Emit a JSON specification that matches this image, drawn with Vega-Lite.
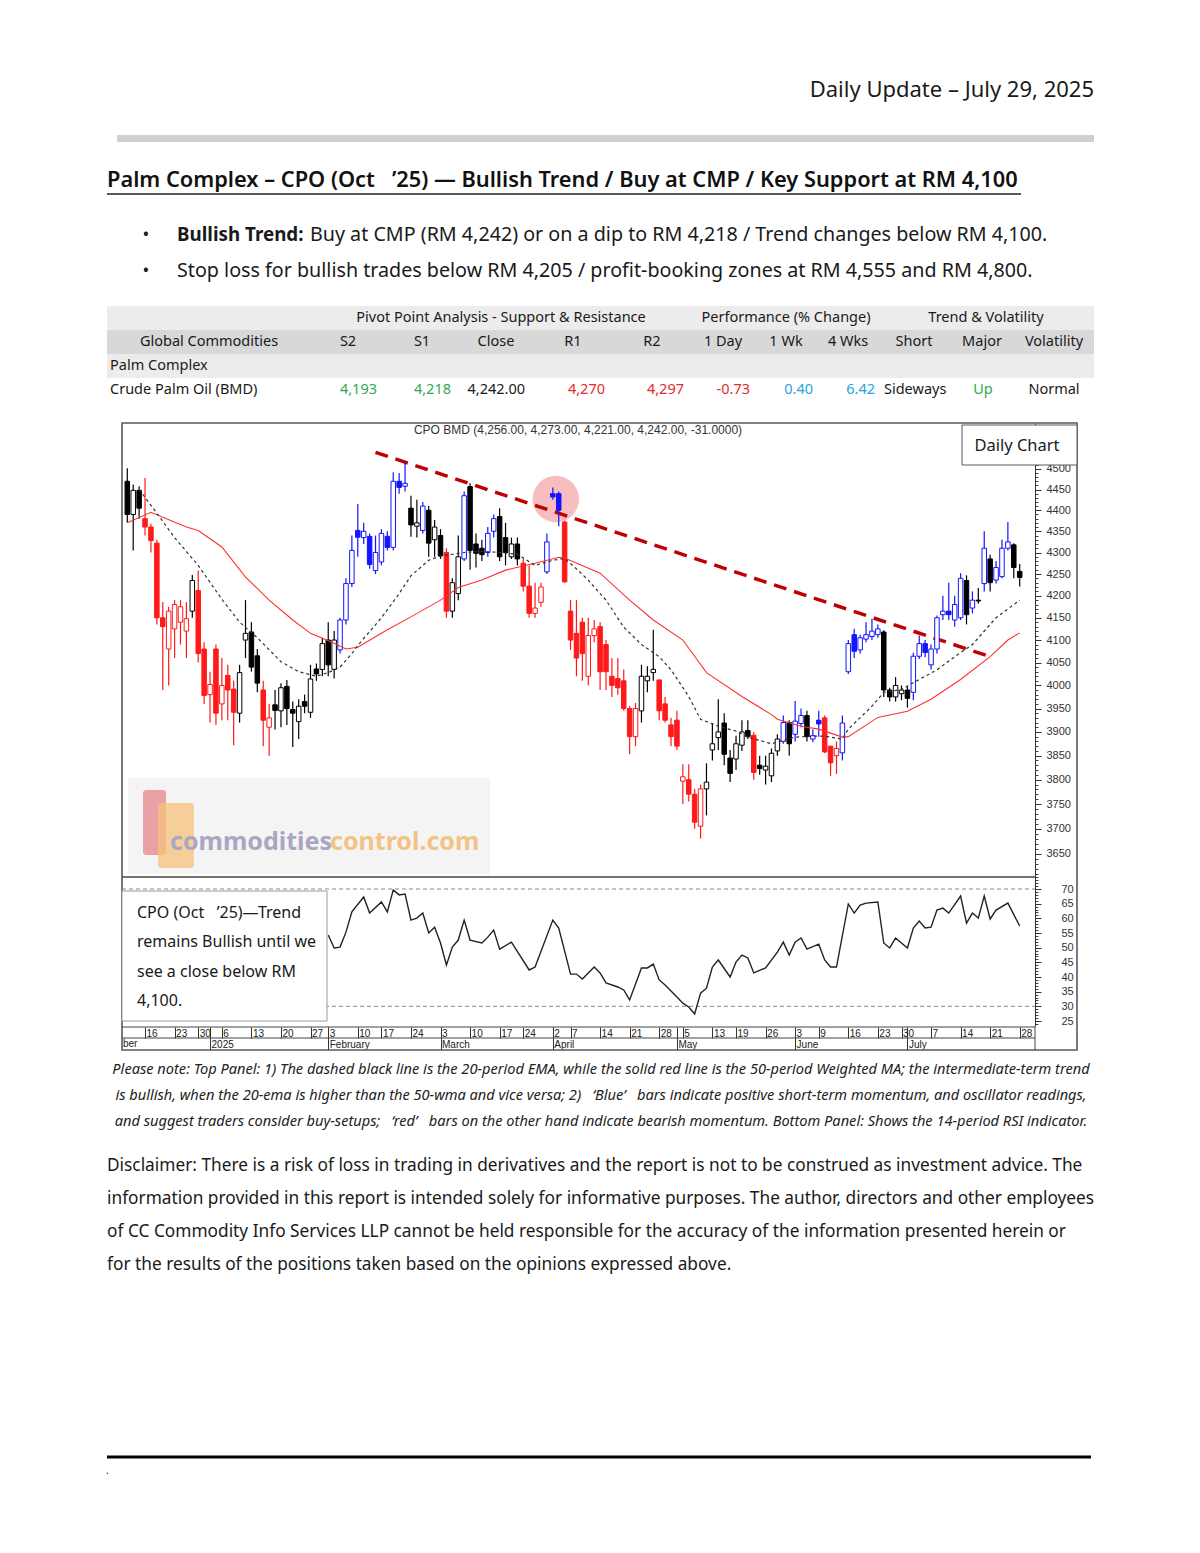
{
"$schema": "https://vega.github.io/schema/vega-lite/v6.json",
"width": 1200,
"height": 1553,
"autosize": {"type": "none"},
"padding": 0,
"background": "#ffffff",
"config": {"view": {"stroke": null}, "text": {"font": "Noto Sans", "baseline": "middle", "color": "#1a1a1a"}, "axis": {"labelFont": "Liberation Sans", "grid": false}},
"datasets": {
"candles": [
{"d":"2024-12-11","o":4470,"h":4502,"l":4370,"c":4390,"m":"neu"},
{"d":"2024-12-12","o":4390,"h":4462,"l":4305,"c":4448,"m":"neu"},
{"d":"2024-12-13","o":4448,"h":4458,"l":4380,"c":4405,"m":"neu"},
{"d":"2024-12-16","o":4380,"h":4478,"l":4340,"c":4360,"m":"neg"},
{"d":"2024-12-17","o":4360,"h":4368,"l":4300,"c":4328,"m":"neg"},
{"d":"2024-12-18","o":4322,"h":4330,"l":4135,"c":4150,"m":"neg"},
{"d":"2024-12-19","o":4150,"h":4186,"l":3990,"c":4130,"m":"neg"},
{"d":"2024-12-20","o":4080,"h":4175,"l":4000,"c":4165,"m":"neg"},
{"d":"2024-12-23","o":4125,"h":4190,"l":4060,"c":4180,"m":"neg"},
{"d":"2024-12-24","o":4140,"h":4190,"l":4090,"c":4175,"m":"neg"},
{"d":"2024-12-26","o":4120,"h":4185,"l":4060,"c":4148,"m":"neg"},
{"d":"2024-12-27","o":4165,"h":4248,"l":4150,"c":4235,"m":"neu"},
{"d":"2024-12-30","o":4212,"h":4258,"l":4050,"c":4070,"m":"neg"},
{"d":"2024-12-31","o":4080,"h":4095,"l":3960,"c":3978,"m":"neg"},
{"d":"2025-01-02","o":3980,"h":4030,"l":3920,"c":4002,"m":"neg"},
{"d":"2025-01-03","o":4080,"h":4090,"l":3915,"c":3940,"m":"neg"},
{"d":"2025-01-06","o":3960,"h":4060,"l":3925,"c":4000,"m":"neg"},
{"d":"2025-01-07","o":4022,"h":4045,"l":3925,"c":3990,"m":"neg"},
{"d":"2025-01-08","o":3992,"h":4010,"l":3872,"c":3942,"m":"neg"},
{"d":"2025-01-09","o":3940,"h":4045,"l":3920,"c":4028,"m":"neu"},
{"d":"2025-01-10","o":4100,"h":4190,"l":4060,"c":4115,"m":"neu"},
{"d":"2025-01-13","o":4118,"h":4140,"l":4030,"c":4040,"m":"neu"},
{"d":"2025-01-14","o":4065,"h":4080,"l":3985,"c":4005,"m":"neu"},
{"d":"2025-01-15","o":3990,"h":4010,"l":3870,"c":3925,"m":"neg"},
{"d":"2025-01-16","o":3910,"h":3960,"l":3850,"c":3930,"m":"neg"},
{"d":"2025-01-17","o":3958,"h":3990,"l":3905,"c":3946,"m":"neu"},
{"d":"2025-01-20","o":3945,"h":4005,"l":3910,"c":3995,"m":"neu"},
{"d":"2025-01-21","o":3998,"h":4012,"l":3915,"c":3950,"m":"neu"},
{"d":"2025-01-22","o":3948,"h":3965,"l":3868,"c":3940,"m":"neu"},
{"d":"2025-01-23","o":3922,"h":3970,"l":3885,"c":3955,"m":"neu"},
{"d":"2025-01-24","o":3965,"h":3980,"l":3940,"c":3955,"m":"neu"},
{"d":"2025-01-27","o":3942,"h":4045,"l":3930,"c":4014,"m":"neu"},
{"d":"2025-01-28","o":4036,"h":4048,"l":4010,"c":4025,"m":"neu"},
{"d":"2025-01-31","o":4035,"h":4105,"l":4020,"c":4092,"m":"neu"},
{"d":"2025-02-03","o":4100,"h":4140,"l":4020,"c":4045,"m":"neu"},
{"d":"2025-02-04","o":4035,"h":4120,"l":4015,"c":4100,"m":"neu"},
{"d":"2025-02-05","o":4078,"h":4150,"l":4070,"c":4145,"m":"pos"},
{"d":"2025-02-06","o":4145,"h":4240,"l":4135,"c":4228,"m":"pos"},
{"d":"2025-02-07","o":4228,"h":4340,"l":4220,"c":4305,"m":"pos"},
{"d":"2025-02-10","o":4352,"h":4415,"l":4290,"c":4336,"m":"pos"},
{"d":"2025-02-12","o":4335,"h":4370,"l":4320,"c":4350,"m":"pos"},
{"d":"2025-02-13","o":4338,"h":4345,"l":4262,"c":4272,"m":"pos"},
{"d":"2025-02-14","o":4258,"h":4340,"l":4250,"c":4300,"m":"pos"},
{"d":"2025-02-17","o":4278,"h":4355,"l":4270,"c":4345,"m":"pos"},
{"d":"2025-02-18","o":4338,"h":4350,"l":4305,"c":4312,"m":"pos"},
{"d":"2025-02-19","o":4312,"h":4492,"l":4305,"c":4470,"m":"pos"},
{"d":"2025-02-20","o":4470,"h":4490,"l":4440,"c":4455,"m":"pos"},
{"d":"2025-02-21","o":4458,"h":4518,"l":4445,"c":4465,"m":"pos"},
{"d":"2025-02-24","o":4405,"h":4435,"l":4337,"c":4365,"m":"neu"},
{"d":"2025-02-25","o":4362,"h":4425,"l":4335,"c":4370,"m":"neu"},
{"d":"2025-02-26","o":4352,"h":4420,"l":4345,"c":4410,"m":"pos"},
{"d":"2025-02-27","o":4400,"h":4410,"l":4290,"c":4322,"m":"neu"},
{"d":"2025-02-28","o":4330,"h":4377,"l":4290,"c":4360,"m":"neu"},
{"d":"2025-03-03","o":4340,"h":4355,"l":4285,"c":4292,"m":"neu"},
{"d":"2025-03-04","o":4300,"h":4310,"l":4150,"c":4165,"m":"neg"},
{"d":"2025-03-05","o":4165,"h":4240,"l":4150,"c":4230,"m":"neu"},
{"d":"2025-03-06","o":4205,"h":4340,"l":4190,"c":4290,"m":"neu"},
{"d":"2025-03-07","o":4285,"h":4445,"l":4280,"c":4435,"m":"pos"},
{"d":"2025-03-10","o":4457,"h":4465,"l":4260,"c":4305,"m":"neu"},
{"d":"2025-03-11","o":4320,"h":4345,"l":4265,"c":4298,"m":"neu"},
{"d":"2025-03-12","o":4310,"h":4330,"l":4280,"c":4295,"m":"neu"},
{"d":"2025-03-13","o":4300,"h":4360,"l":4290,"c":4345,"m":"pos"},
{"d":"2025-03-14","o":4350,"h":4390,"l":4335,"c":4380,"m":"pos"},
{"d":"2025-03-17","o":4385,"h":4405,"l":4280,"c":4290,"m":"neu"},
{"d":"2025-03-19","o":4335,"h":4370,"l":4270,"c":4300,"m":"neu"},
{"d":"2025-03-20","o":4290,"h":4335,"l":4285,"c":4320,"m":"neu"},
{"d":"2025-03-21","o":4320,"h":4335,"l":4270,"c":4285,"m":"neu"},
{"d":"2025-03-24","o":4275,"h":4285,"l":4210,"c":4222,"m":"neg"},
{"d":"2025-03-25","o":4222,"h":4270,"l":4150,"c":4160,"m":"neg"},
{"d":"2025-03-26","o":4160,"h":4230,"l":4150,"c":4172,"m":"neg"},
{"d":"2025-03-27","o":4185,"h":4230,"l":4175,"c":4220,"m":"neg"},
{"d":"2025-03-28","o":4255,"h":4345,"l":4250,"c":4325,"m":"pos"},
{"d":"2025-04-02","o":4440,"h":4455,"l":4425,"c":4432,"m":"pos"},
{"d":"2025-04-03","o":4440,"h":4445,"l":4362,"c":4400,"m":"pos"},
{"d":"2025-04-04","o":4372,"h":4375,"l":4230,"c":4232,"m":"neg"},
{"d":"2025-04-07","o":4165,"h":4190,"l":4078,"c":4100,"m":"neg"},
{"d":"2025-04-08","o":4115,"h":4190,"l":4020,"c":4060,"m":"neg"},
{"d":"2025-04-09","o":4140,"h":4150,"l":4010,"c":4070,"m":"neg"},
{"d":"2025-04-10","o":4020,"h":4150,"l":4000,"c":4110,"m":"neg"},
{"d":"2025-04-11","o":4110,"h":4145,"l":4095,"c":4125,"m":"neg"},
{"d":"2025-04-14","o":4130,"h":4140,"l":3990,"c":4030,"m":"neg"},
{"d":"2025-04-15","o":4090,"h":4100,"l":3990,"c":4030,"m":"neg"},
{"d":"2025-04-16","o":4020,"h":4060,"l":3975,"c":4000,"m":"neg"},
{"d":"2025-04-17","o":4015,"h":4060,"l":3980,"c":3995,"m":"neg"},
{"d":"2025-04-18","o":4010,"h":4035,"l":3945,"c":3950,"m":"neg"},
{"d":"2025-04-21","o":3950,"h":3955,"l":3853,"c":3890,"m":"neg"},
{"d":"2025-04-22","o":3890,"h":3962,"l":3870,"c":3950,"m":"neg"},
{"d":"2025-04-23","o":3945,"h":4045,"l":3920,"c":4020,"m":"neu"},
{"d":"2025-04-24","o":4010,"h":4042,"l":3985,"c":4020,"m":"neu"},
{"d":"2025-04-25","o":4028,"h":4123,"l":4010,"c":4035,"m":"neu"},
{"d":"2025-04-28","o":4012,"h":4012,"l":3925,"c":3945,"m":"neg"},
{"d":"2025-04-29","o":3960,"h":3975,"l":3920,"c":3925,"m":"neg"},
{"d":"2025-04-30","o":3915,"h":3930,"l":3870,"c":3890,"m":"neg"},
{"d":"2025-05-02","o":3925,"h":3945,"l":3862,"c":3870,"m":"neg"},
{"d":"2025-05-05","o":3797,"h":3832,"l":3750,"c":3806,"m":"neg"},
{"d":"2025-05-06","o":3800,"h":3832,"l":3755,"c":3770,"m":"neg"},
{"d":"2025-05-07","o":3770,"h":3781,"l":3700,"c":3713,"m":"neg"},
{"d":"2025-05-08","o":3705,"h":3790,"l":3680,"c":3781,"m":"neg"},
{"d":"2025-05-09","o":3781,"h":3834,"l":3727,"c":3795,"m":"neu"},
{"d":"2025-05-13","o":3862,"h":3919,"l":3840,"c":3875,"m":"neu"},
{"d":"2025-05-14","o":3888,"h":3970,"l":3862,"c":3900,"m":"neu"},
{"d":"2025-05-15","o":3919,"h":3940,"l":3830,"c":3853,"m":"neu"},
{"d":"2025-05-16","o":3845,"h":3862,"l":3795,"c":3813,"m":"neu"},
{"d":"2025-05-19","o":3843,"h":3892,"l":3820,"c":3875,"m":"neu"},
{"d":"2025-05-20","o":3872,"h":3925,"l":3860,"c":3900,"m":"neu"},
{"d":"2025-05-21","o":3903,"h":3925,"l":3885,"c":3890,"m":"neu"},
{"d":"2025-05-22","o":3893,"h":3900,"l":3800,"c":3815,"m":"neg"},
{"d":"2025-05-23","o":3830,"h":3850,"l":3810,"c":3823,"m":"neu"},
{"d":"2025-05-26","o":3820,"h":3850,"l":3790,"c":3828,"m":"neu"},
{"d":"2025-05-27","o":3808,"h":3865,"l":3795,"c":3855,"m":"neu"},
{"d":"2025-05-28","o":3860,"h":3895,"l":3850,"c":3885,"m":"neu"},
{"d":"2025-05-29","o":3880,"h":3935,"l":3875,"c":3920,"m":"pos"},
{"d":"2025-05-30","o":3920,"h":3925,"l":3850,"c":3875,"m":"neu"},
{"d":"2025-06-03","o":3895,"h":3966,"l":3880,"c":3923,"m":"pos"},
{"d":"2025-06-04","o":3918,"h":3950,"l":3910,"c":3935,"m":"pos"},
{"d":"2025-06-05","o":3935,"h":3945,"l":3880,"c":3890,"m":"neu"},
{"d":"2025-06-06","o":3885,"h":3905,"l":3878,"c":3892,"m":"pos"},
{"d":"2025-06-09","o":3925,"h":3945,"l":3890,"c":3917,"m":"pos"},
{"d":"2025-06-10","o":3930,"h":3935,"l":3855,"c":3858,"m":"neg"},
{"d":"2025-06-11","o":3870,"h":3870,"l":3808,"c":3835,"m":"neg"},
{"d":"2025-06-12","o":3850,"h":3880,"l":3812,"c":3865,"m":"neg"},
{"d":"2025-06-13","o":3856,"h":3935,"l":3840,"c":3919,"m":"pos"},
{"d":"2025-06-16","o":4030,"h":4100,"l":4025,"c":4092,"m":"pos"},
{"d":"2025-06-17","o":4112,"h":4125,"l":4060,"c":4075,"m":"pos"},
{"d":"2025-06-18","o":4078,"h":4112,"l":4070,"c":4105,"m":"pos"},
{"d":"2025-06-19","o":4102,"h":4140,"l":4095,"c":4112,"m":"pos"},
{"d":"2025-06-20","o":4108,"h":4148,"l":4100,"c":4120,"m":"pos"},
{"d":"2025-06-23","o":4112,"h":4135,"l":4105,"c":4125,"m":"pos"},
{"d":"2025-06-24","o":4118,"h":4122,"l":3975,"c":3990,"m":"neu"},
{"d":"2025-06-25","o":3990,"h":3995,"l":3965,"c":3975,"m":"neu"},
{"d":"2025-06-26","o":3975,"h":4018,"l":3965,"c":4000,"m":"neu"},
{"d":"2025-06-30","o":3982,"h":4000,"l":3968,"c":3990,"m":"neu"},
{"d":"2025-07-01","o":3990,"h":3998,"l":3952,"c":3972,"m":"neu"},
{"d":"2025-07-02","o":3985,"h":4072,"l":3968,"c":4064,"m":"pos"},
{"d":"2025-07-03","o":4064,"h":4110,"l":4058,"c":4092,"m":"pos"},
{"d":"2025-07-04","o":4092,"h":4100,"l":4062,"c":4072,"m":"pos"},
{"d":"2025-07-07","o":4045,"h":4090,"l":4035,"c":4080,"m":"pos"},
{"d":"2025-07-08","o":4080,"h":4155,"l":4070,"c":4150,"m":"pos"},
{"d":"2025-07-09","o":4157,"h":4200,"l":4145,"c":4165,"m":"pos"},
{"d":"2025-07-10","o":4165,"h":4230,"l":4145,"c":4157,"m":"pos"},
{"d":"2025-07-11","o":4145,"h":4200,"l":4130,"c":4180,"m":"pos"},
{"d":"2025-07-14","o":4150,"h":4252,"l":4145,"c":4240,"m":"pos"},
{"d":"2025-07-15","o":4235,"h":4247,"l":4135,"c":4157,"m":"neu"},
{"d":"2025-07-16","o":4172,"h":4210,"l":4160,"c":4190,"m":"pos"},
{"d":"2025-07-17","o":4190,"h":4218,"l":4182,"c":4188,"m":"neu"},
{"d":"2025-07-18","o":4228,"h":4350,"l":4210,"c":4310,"m":"pos"},
{"d":"2025-07-21","o":4285,"h":4295,"l":4210,"c":4230,"m":"neu"},
{"d":"2025-07-22","o":4236,"h":4280,"l":4228,"c":4265,"m":"pos"},
{"d":"2025-07-23","o":4244,"h":4330,"l":4240,"c":4310,"m":"pos"},
{"d":"2025-07-24","o":4310,"h":4372,"l":4305,"c":4325,"m":"pos"},
{"d":"2025-07-25","o":4318,"h":4322,"l":4240,"c":4265,"m":"neu"},
{"d":"2025-07-28","o":4256,"h":4273,"l":4221,"c":4242,"m":"neu"}
],
"ema": [
{"d":"2024-12-13","v":4450},{"d":"2024-12-18","v":4393},{"d":"2024-12-23","v":4335},{"d":"2024-12-30","v":4270},
{"d":"2025-01-06","v":4192},{"d":"2025-01-09","v":4140},{"d":"2025-01-14","v":4105},{"d":"2025-01-20","v":4052},
{"d":"2025-01-23","v":4030},{"d":"2025-01-28","v":4020},{"d":"2025-02-03","v":4028},{"d":"2025-02-05","v":4040},
{"d":"2025-02-07","v":4070},{"d":"2025-02-10","v":4088},{"d":"2025-02-17","v":4150},{"d":"2025-02-20","v":4205},
{"d":"2025-02-24","v":4246},{"d":"2025-02-27","v":4282},{"d":"2025-03-03","v":4292},{"d":"2025-03-07","v":4300},
{"d":"2025-03-12","v":4303},{"d":"2025-03-17","v":4300},{"d":"2025-03-21","v":4296},{"d":"2025-03-26","v":4270},
{"d":"2025-04-02","v":4282},{"d":"2025-04-04","v":4286},{"d":"2025-04-08","v":4262},{"d":"2025-04-10","v":4236},
{"d":"2025-04-15","v":4190},{"d":"2025-04-18","v":4129},{"d":"2025-04-23","v":4090},{"d":"2025-04-28","v":4063},
{"d":"2025-04-30","v":4034},{"d":"2025-05-06","v":3976},{"d":"2025-05-08","v":3927},{"d":"2025-05-14","v":3912},
{"d":"2025-05-19","v":3902},{"d":"2025-05-21","v":3889},{"d":"2025-05-27","v":3875},{"d":"2025-06-03","v":3889},
{"d":"2025-06-06","v":3891},{"d":"2025-06-10","v":3891},{"d":"2025-06-13","v":3885},{"d":"2025-06-16","v":3906},
{"d":"2025-06-20","v":3955},{"d":"2025-06-24","v":3985},{"d":"2025-06-30","v":3991},{"d":"2025-07-02","v":4006},
{"d":"2025-07-08","v":4034},{"d":"2025-07-11","v":4063},{"d":"2025-07-16","v":4090},{"d":"2025-07-22","v":4150},
{"d":"2025-07-28","v":4190}
],
"wma": [
{"d":"2024-12-11","v":4370},{"d":"2024-12-17","v":4395},{"d":"2024-12-26","v":4360},{"d":"2024-12-30","v":4352},
{"d":"2025-01-06","v":4313},{"d":"2025-01-10","v":4243},{"d":"2025-01-16","v":4190},{"d":"2025-01-22","v":4145},
{"d":"2025-01-27","v":4115},{"d":"2025-02-04","v":4093},{"d":"2025-02-06","v":4080},{"d":"2025-02-10","v":4084},
{"d":"2025-02-18","v":4123},{"d":"2025-02-24","v":4152},{"d":"2025-03-03","v":4190},{"d":"2025-03-06","v":4219},
{"d":"2025-03-12","v":4236},{"d":"2025-03-19","v":4259},{"d":"2025-03-26","v":4275},{"d":"2025-04-03","v":4289},
{"d":"2025-04-04","v":4287},{"d":"2025-04-14","v":4252},{"d":"2025-04-21","v":4190},{"d":"2025-04-25","v":4145},
{"d":"2025-05-05","v":4100},{"d":"2025-05-09","v":4028},{"d":"2025-05-20","v":3976},{"d":"2025-05-27","v":3937},
{"d":"2025-05-28","v":3927},{"d":"2025-06-04","v":3912},{"d":"2025-06-09","v":3906},{"d":"2025-06-13","v":3889},
{"d":"2025-06-16","v":3890},{"d":"2025-06-23","v":3931},{"d":"2025-07-01","v":3944},{"d":"2025-07-07","v":3970},
{"d":"2025-07-14","v":4013},{"d":"2025-07-21","v":4063},{"d":"2025-07-24","v":4100},{"d":"2025-07-28","v":4116}
],
"rsi": [
{"d":"2025-02-03","v":54.3},{"d":"2025-02-04","v":49.9},{"d":"2025-02-05","v":50.2},{"d":"2025-02-06","v":55.3},
{"d":"2025-02-07","v":62.2},{"d":"2025-02-12","v":67.3},{"d":"2025-02-13","v":61.8},{"d":"2025-02-17","v":65.6},
{"d":"2025-02-18","v":62.2},{"d":"2025-02-19","v":69.7},{"d":"2025-02-20","v":68.0},{"d":"2025-02-21","v":68.3},
{"d":"2025-02-24","v":59.4},{"d":"2025-02-25","v":60.1},{"d":"2025-02-26","v":61.8},{"d":"2025-02-27","v":55.0},
{"d":"2025-02-28","v":57.0},{"d":"2025-03-03","v":51.6},{"d":"2025-03-04","v":44.1},{"d":"2025-03-05","v":50.2},
{"d":"2025-03-06","v":52.6},{"d":"2025-03-07","v":59.4},{"d":"2025-03-10","v":52.6},{"d":"2025-03-12","v":51.6},
{"d":"2025-03-13","v":53.6},{"d":"2025-03-14","v":56.0},{"d":"2025-03-17","v":49.5},{"d":"2025-03-20","v":51.9},
{"d":"2025-03-25","v":42.4},{"d":"2025-03-26","v":43.4},{"d":"2025-04-02","v":59.4},{"d":"2025-04-03","v":56.7},
{"d":"2025-04-07","v":41.0},{"d":"2025-04-08","v":41.0},{"d":"2025-04-09","v":39.3},{"d":"2025-04-11","v":43.4},
{"d":"2025-04-14","v":41.4},{"d":"2025-04-15","v":38.0},{"d":"2025-04-17","v":36.6},{"d":"2025-04-18","v":35.6},
{"d":"2025-04-21","v":32.2},{"d":"2025-04-23","v":43.1},{"d":"2025-04-24","v":43.1},{"d":"2025-04-25","v":44.4},
{"d":"2025-04-28","v":39.0},{"d":"2025-04-29","v":37.3},{"d":"2025-05-02","v":33.2},{"d":"2025-05-05","v":31.1},
{"d":"2025-05-06","v":29.8},{"d":"2025-05-07","v":27.4},{"d":"2025-05-08","v":34.5},{"d":"2025-05-09","v":36.2},
{"d":"2025-05-13","v":43.4},{"d":"2025-05-14","v":45.8},{"d":"2025-05-16","v":40.0},{"d":"2025-05-19","v":45.1},
{"d":"2025-05-20","v":47.5},{"d":"2025-05-21","v":46.5},{"d":"2025-05-22","v":41.4},{"d":"2025-05-26","v":43.1},
{"d":"2025-05-28","v":48.5},{"d":"2025-05-29","v":51.9},{"d":"2025-05-30","v":47.5},{"d":"2025-06-03","v":51.9},
{"d":"2025-06-04","v":53.3},{"d":"2025-06-05","v":49.5},{"d":"2025-06-09","v":51.2},{"d":"2025-06-10","v":45.8},
{"d":"2025-06-11","v":43.4},{"d":"2025-06-12","v":43.4},{"d":"2025-06-16","v":64.9},{"d":"2025-06-17","v":61.8},
{"d":"2025-06-18","v":64.5},{"d":"2025-06-19","v":65.2},{"d":"2025-06-23","v":65.6},{"d":"2025-06-24","v":51.6},
{"d":"2025-06-25","v":49.9},{"d":"2025-06-26","v":53.3},{"d":"2025-07-01","v":49.9},{"d":"2025-07-02","v":56.7},
{"d":"2025-07-03","v":59.1},{"d":"2025-07-04","v":56.7},{"d":"2025-07-07","v":57.0},{"d":"2025-07-08","v":62.8},
{"d":"2025-07-09","v":63.5},{"d":"2025-07-10","v":61.8},{"d":"2025-07-14","v":67.6},{"d":"2025-07-15","v":58.4},
{"d":"2025-07-16","v":61.8},{"d":"2025-07-17","v":60.1},{"d":"2025-07-18","v":67.6},{"d":"2025-07-21","v":59.8},
{"d":"2025-07-22","v":62.8},{"d":"2025-07-24","v":65.2},{"d":"2025-07-28","v":57.4}
]
},
"layer": [
{"data":{"values":[{"t":"Daily Update – July 29, 2025"}]},"mark":{"type":"text","align":"right","fontSize":22},"encoding":{"text":{"field":"t"},"x":{"value":1094},"y":{"value":90}}},
{"data":{"values":[{}]},"mark":{"type":"rect","color":"#d0d0d0"},"encoding":{"x":{"value":117},"x2":{"value":1094},"y":{"value":135},"y2":{"value":142}}},
{"data":{"values":[{"t":"Palm Complex – CPO (Oct\u00a0\u00a0\u00a0’25) — Bullish Trend / Buy at CMP / Key Support at RM 4,100"}]},"mark":{"type":"text","align":"left","fontSize":21.8,"fontWeight":600,"color":"#111111"},"encoding":{"text":{"field":"t"},"x":{"value":107},"y":{"value":180}}},
{"data":{"values":[{}]},"mark":{"type":"rule","color":"#222222","strokeWidth":1.3},"encoding":{"x":{"value":107},"x2":{"value":1021},"y":{"value":194}}},
{"data":{"values":[{"ln":1,"t":"•"},{"ln":2,"t":"•"}]},"mark":{"type":"text","fontSize":18},"encoding":{"text":{"field":"t"},"x":{"value":146},"y":{"field":"ln","type":"ordinal","scale":{"type":"point","domain":[1,2],"range":[235,271],"padding":0},"axis":null}}},
{"data":{"values":[{"t":"Bullish Trend:"}]},"mark":{"type":"text","align":"left","fontSize":18.8,"fontWeight":"bold"},"encoding":{"text":{"field":"t"},"x":{"value":177},"y":{"value":235}}},
{"data":{"values":[{"t":"Buy at CMP (RM 4,242) or on a dip to RM 4,218 / Trend changes below RM 4,100."}]},"mark":{"type":"text","align":"left","fontSize":19.7},"encoding":{"text":{"field":"t"},"x":{"value":310},"y":{"value":235}}},
{"data":{"values":[{"t":"Stop loss for bullish trades below RM 4,205 / profit-booking zones at RM 4,555 and RM 4,800."}]},"mark":{"type":"text","align":"left","fontSize":19.7},"encoding":{"text":{"field":"t"},"x":{"value":177},"y":{"value":271}}},
{"data":{"values":[{"r":1,"s":"a"},{"r":2,"s":"b"},{"r":3,"s":"a"}]},"mark":{"type":"rect"},"encoding":{"x":{"value":107},"x2":{"value":1094},"y":{"field":"r","type":"ordinal","scale":{"type":"band","domain":[1,2,3,4],"range":[306,402],"paddingInner":0,"paddingOuter":0},"axis":null},"fill":{"field":"s","type":"nominal","scale":{"domain":["a","b"],"range":["#ececec","#d8d8d8"]},"legend":null}}},
{"data":{"values":[{"t":"Pivot Point Analysis - Support & Resistance"}]},"mark":{"type":"text","fontSize":14.5},"encoding":{"text":{"field":"t"},"x":{"value":501},"y":{"value":318}}},
{"data":{"values":[{"t":"Performance (% Change)"}]},"mark":{"type":"text","fontSize":14.5},"encoding":{"text":{"field":"t"},"x":{"value":786},"y":{"value":318}}},
{"data":{"values":[{"t":"Trend & Volatility"}]},"mark":{"type":"text","fontSize":14.5},"encoding":{"text":{"field":"t"},"x":{"value":986},"y":{"value":318}}},
{"data":{"values":[{"t":"Global Commodities"}]},"mark":{"type":"text","fontSize":14.5},"encoding":{"text":{"field":"t"},"x":{"value":209},"y":{"value":342}}},
{"data":{"values":[{"t":"S2"}]},"mark":{"type":"text","fontSize":14.5},"encoding":{"text":{"field":"t"},"x":{"value":348},"y":{"value":342}}},
{"data":{"values":[{"t":"S1"}]},"mark":{"type":"text","fontSize":14.5},"encoding":{"text":{"field":"t"},"x":{"value":422},"y":{"value":342}}},
{"data":{"values":[{"t":"Close"}]},"mark":{"type":"text","fontSize":14.5},"encoding":{"text":{"field":"t"},"x":{"value":496},"y":{"value":342}}},
{"data":{"values":[{"t":"R1"}]},"mark":{"type":"text","fontSize":14.5},"encoding":{"text":{"field":"t"},"x":{"value":573},"y":{"value":342}}},
{"data":{"values":[{"t":"R2"}]},"mark":{"type":"text","fontSize":14.5},"encoding":{"text":{"field":"t"},"x":{"value":652},"y":{"value":342}}},
{"data":{"values":[{"t":"1 Day"}]},"mark":{"type":"text","fontSize":14.5},"encoding":{"text":{"field":"t"},"x":{"value":723},"y":{"value":342}}},
{"data":{"values":[{"t":"1 Wk"}]},"mark":{"type":"text","fontSize":14.5},"encoding":{"text":{"field":"t"},"x":{"value":786},"y":{"value":342}}},
{"data":{"values":[{"t":"4 Wks"}]},"mark":{"type":"text","fontSize":14.5},"encoding":{"text":{"field":"t"},"x":{"value":848},"y":{"value":342}}},
{"data":{"values":[{"t":"Short"}]},"mark":{"type":"text","fontSize":14.5},"encoding":{"text":{"field":"t"},"x":{"value":914},"y":{"value":342}}},
{"data":{"values":[{"t":"Major"}]},"mark":{"type":"text","fontSize":14.5},"encoding":{"text":{"field":"t"},"x":{"value":982},"y":{"value":342}}},
{"data":{"values":[{"t":"Volatility"}]},"mark":{"type":"text","fontSize":14.5},"encoding":{"text":{"field":"t"},"x":{"value":1054},"y":{"value":342}}},
{"data":{"values":[{"t":"Palm Complex"}]},"mark":{"type":"text","align":"left","fontSize":14.5},"encoding":{"text":{"field":"t"},"x":{"value":110},"y":{"value":366}}},
{"data":{"values":[{"t":"Crude Palm Oil (BMD)"}]},"mark":{"type":"text","align":"left","fontSize":14.5},"encoding":{"text":{"field":"t"},"x":{"value":110},"y":{"value":390}}},
{"data":{"values":[{"t":"4,193"}]},"mark":{"type":"text","align":"right","fontSize":14.5,"color":"#33a852"},"encoding":{"text":{"field":"t"},"x":{"value":377},"y":{"value":390}}},
{"data":{"values":[{"t":"4,218"}]},"mark":{"type":"text","align":"right","fontSize":14.5,"color":"#33a852"},"encoding":{"text":{"field":"t"},"x":{"value":451},"y":{"value":390}}},
{"data":{"values":[{"t":"4,242.00"}]},"mark":{"type":"text","align":"right","fontSize":14.5},"encoding":{"text":{"field":"t"},"x":{"value":525},"y":{"value":390}}},
{"data":{"values":[{"t":"4,270"}]},"mark":{"type":"text","align":"right","fontSize":14.5,"color":"#e52b2b"},"encoding":{"text":{"field":"t"},"x":{"value":605},"y":{"value":390}}},
{"data":{"values":[{"t":"4,297"}]},"mark":{"type":"text","align":"right","fontSize":14.5,"color":"#e52b2b"},"encoding":{"text":{"field":"t"},"x":{"value":684},"y":{"value":390}}},
{"data":{"values":[{"t":"-0.73"}]},"mark":{"type":"text","align":"right","fontSize":14.5,"color":"#e52b2b"},"encoding":{"text":{"field":"t"},"x":{"value":750},"y":{"value":390}}},
{"data":{"values":[{"t":"0.40"}]},"mark":{"type":"text","align":"right","fontSize":14.5,"color":"#29a3dd"},"encoding":{"text":{"field":"t"},"x":{"value":813},"y":{"value":390}}},
{"data":{"values":[{"t":"6.42"}]},"mark":{"type":"text","align":"right","fontSize":14.5,"color":"#29a3dd"},"encoding":{"text":{"field":"t"},"x":{"value":875},"y":{"value":390}}},
{"data":{"values":[{"t":"Sideways"}]},"mark":{"type":"text","align":"left","fontSize":14.5},"encoding":{"text":{"field":"t"},"x":{"value":884},"y":{"value":390}}},
{"data":{"values":[{"t":"Up"}]},"mark":{"type":"text","fontSize":14.5,"color":"#33a852"},"encoding":{"text":{"field":"t"},"x":{"value":983},"y":{"value":390}}},
{"data":{"values":[{"t":"Normal"}]},"mark":{"type":"text","fontSize":14.5},"encoding":{"text":{"field":"t"},"x":{"value":1054},"y":{"value":390}}},
{"data":{"values":[{}]},"mark":{"type":"rect","fillOpacity":0,"stroke":"#5a5a5a","strokeWidth":1.6},"encoding":{"x":{"value":122},"x2":{"value":1077},"y":{"value":423},"y2":{"value":1050}}},
{"data":{"values":[{}]},"mark":{"type":"rect","color":"#f4f4f4"},"encoding":{"x":{"value":128},"x2":{"value":490},"y":{"value":778},"y2":{"value":874}}},
{"data":{"values":[{}]},"mark":{"type":"rect","color":"#e5868c","opacity":0.75,"cornerRadius":3},"encoding":{"x":{"value":143},"x2":{"value":166},"y":{"value":790},"y2":{"value":855}}},
{"data":{"values":[{}]},"mark":{"type":"rect","color":"#f5c27c","opacity":0.75,"cornerRadius":3},"encoding":{"x":{"value":158},"x2":{"value":194},"y":{"value":803},"y2":{"value":868}}},
{"data":{"values":[{"t":"commodities"}]},"mark":{"type":"text","align":"left","fontSize":25,"fontWeight":"bold","color":"#aaa6c2"},"encoding":{"text":{"field":"t"},"x":{"value":170},"y":{"value":842}}},
{"data":{"values":[{"t":"control.com"}]},"mark":{"type":"text","align":"left","fontSize":25,"fontWeight":"bold","color":"#f3c384"},"encoding":{"text":{"field":"t"},"x":{"value":330},"y":{"value":842}}},
{
"layer": [
{
"layer": [
{"data":{"values":[{"d":"2025-04-02","p":4427}]},"mark":{"type":"circle","size":2150,"color":"#f5b3b3","opacity":0.85,"xOffset":3},"encoding":{"x":{"field":"d","type":"nominal","scale":{"type":"point","range":[127.3,1019.7],"padding":0},"axis":null},"y":{"field":"p","type":"quantitative","scale":{"type":"log","domain":[3604,4614],"range":[877,423],"nice":false,"zero":false},"axis":null}}},
{"data":{"values":[{"d":"2025-02-14","p":4541},{"d":"2025-07-21","p":4063}]},"mark":{"type":"line","color":"#c00000","strokeWidth":3.5,"strokeDash":[13,8]},"encoding":{"x":{"field":"d","type":"nominal","scale":{"type":"point","range":[127.3,1019.7],"padding":0},"axis":null},"y":{"field":"p","type":"quantitative","scale":{"type":"log","domain":[3604,4614],"range":[877,423],"nice":false,"zero":false},"axis":null}}},
{"data":{"name":"candles"},"mark":{"type":"rule","strokeWidth":1.2},"encoding":{"x":{"field":"d","type":"nominal","scale":{"type":"point","range":[127.3,1019.7],"padding":0},"axis":null},"y":{"field":"l","type":"quantitative","scale":{"type":"log","domain":[3604,4614],"range":[877,423],"nice":false,"zero":false},"axis":{"orient":"right","offset":-165,"values":[3650,3700,3750,3800,3850,3900,3950,4000,4050,4100,4150,4200,4250,4300,4350,4400,4450,4500],"format":"d","tickSize":6,"tickColor":"#333333","domainColor":"#333333","labelFontSize":11,"labelColor":"#333333","labelPadding":5,"labelFlush":false,"labelOverlap":false,"title":null}},"y2":{"field":"h"},"color":{"field":"m","type":"nominal","scale":{"domain":["pos","neg","neu"],"range":["#1414ff","#ff1a1a","#000000"]},"legend":null}}},
{"data":{"name":"candles"},"mark":{"type":"bar","size":4.5,"strokeWidth":1},"encoding":{"x":{"field":"d","type":"nominal","scale":{"type":"point","range":[127.3,1019.7],"padding":0},"axis":null},"y":{"field":"o","type":"quantitative","scale":{"type":"log","domain":[3604,4614],"range":[877,423],"nice":false,"zero":false},"axis":{"orient":"right","offset":-165,"values":[3610,3620,3630,3640,3660,3670,3680,3690,3710,3720,3730,3740,3760,3770,3780,3790,3810,3820,3830,3840,3860,3870,3880,3890,3910,3920,3930,3940,3960,3970,3980,3990,4010,4020,4030,4040,4060,4070,4080,4090,4110,4120,4130,4140,4160,4170,4180,4190,4210,4220,4230,4240,4260,4270,4280,4290,4310,4320,4330,4340,4360,4370,4380,4390,4410,4420,4430,4440,4460,4470,4480,4490,4510,4520,4530,4540,4560,4570,4580,4590,4610],"labels":false,"domain":false,"tickSize":3,"tickColor":"#444444","title":null}},"y2":{"field":"c"},"fill":{"condition":{"test":"datum.c > datum.o","value":"#ffffff"},"field":"m","type":"nominal","scale":{"domain":["pos","neg","neu"],"range":["#1414ff","#ff1a1a","#000000"]},"legend":null},"stroke":{"field":"m","type":"nominal","scale":{"domain":["pos","neg","neu"],"range":["#1414ff","#ff1a1a","#000000"]},"legend":null}}},
{"data":{"name":"wma"},"mark":{"type":"line","color":"#ff3030","strokeWidth":1.1},"encoding":{"x":{"field":"d","type":"nominal","scale":{"type":"point","range":[127.3,1019.7],"padding":0},"axis":{"orient":"bottom","offset":-526,"values":["2025-01-02","2025-02-03","2025-03-03","2025-04-02","2025-05-02","2025-06-03","2025-07-01"],"labelExpr":"['2025','February','March','April','May','June','July'][toNumber(substring(datum.value,5,7))-1]","labelAngle":0,"tickSize":23,"labelPadding":-11,"labelAlign":"left","labelBaseline":"top","labelOffset":1,"domain":false,"labelFontSize":10,"labelColor":"#222222","tickColor":"#333333","labelOverlap":false,"labelFlush":false,"labelBound":false,"title":null}},"y":{"field":"v","type":"quantitative","scale":{"type":"log","domain":[3604,4614],"range":[877,423],"nice":false,"zero":false},"axis":null}}},
{"data":{"name":"ema"},"mark":{"type":"line","color":"#333333","strokeWidth":1.2,"strokeDash":[3,3]},"encoding":{"x":{"field":"d","type":"nominal","scale":{"type":"point","range":[127.3,1019.7],"padding":0},"axis":null},"y":{"field":"v","type":"quantitative","scale":{"type":"log","domain":[3604,4614],"range":[877,423],"nice":false,"zero":false},"axis":null}}}
],
"resolve": {"axis": {"x": "independent", "y": "independent"}}
},
{
"layer": [
{"data":{"values":[{"v":70},{"v":30}]},"mark":{"type":"rule","color":"#8a8a8a","strokeWidth":1,"strokeDash":[4,3]},"encoding":{"x":{"value":122},"x2":{"value":1035},"y":{"field":"v","type":"quantitative","scale":{"type":"linear","domain":[23.3,74.1],"range":[1026,877],"nice":false,"zero":false},"axis":{"orient":"right","offset":-165,"values":[24,26,27,28,29,31,32,33,34,36,37,38,39,41,42,43,44,46,47,48,49,51,52,53,54,56,57,58,59,61,62,63,64,66,67,68,69,71,72,73,74],"labels":false,"domain":false,"tickSize":3,"tickColor":"#444444","title":null}}}},
{"data":{"name":"rsi"},"mark":{"type":"line","color":"#222222","strokeWidth":1.4},"encoding":{"x":{"field":"d","type":"nominal","scale":{"type":"point","range":[127.3,1019.7],"padding":0},"axis":{"orient":"bottom","offset":-526,"values":["2024-12-16","2024-12-23","2024-12-30","2025-01-06","2025-01-13","2025-01-20","2025-01-27","2025-02-03","2025-02-10","2025-02-17","2025-02-24","2025-03-03","2025-03-10","2025-03-17","2025-03-24","2025-04-02","2025-04-07","2025-04-14","2025-04-21","2025-04-28","2025-05-05","2025-05-13","2025-05-19","2025-05-26","2025-06-03","2025-06-09","2025-06-16","2025-06-23","2025-06-30","2025-07-07","2025-07-14","2025-07-21","2025-07-28"],"labelExpr":"'' + toNumber(substring(datum.value,8,10))","labelAngle":0,"tickSize":11,"labelPadding":-10,"labelAlign":"left","labelBaseline":"top","labelOffset":1,"domain":false,"labelFontSize":10,"labelColor":"#222222","tickColor":"#333333","labelOverlap":false,"labelFlush":false,"labelBound":false,"title":null}},"y":{"field":"v","type":"quantitative","scale":{"type":"linear","domain":[23.3,74.1],"range":[1026,877],"nice":false,"zero":false},"axis":{"orient":"right","offset":-165,"values":[25,30,35,40,45,50,55,60,65,70],"tickSize":6,"tickColor":"#333333","domainColor":"#333333","labelFontSize":11,"labelColor":"#333333","labelPadding":20,"labelFlush":false,"labelOverlap":false,"title":null}}}}
],
"resolve": {"axis": {"x": "independent", "y": "independent"}}
}
],
"resolve": {"scale": {"y": "independent"}, "axis": {"x": "independent", "y": "independent"}}
},
{"data":{"values":[{}]},"mark":{"type":"rule","color":"#444444","strokeWidth":1.3},"encoding":{"x":{"value":122},"x2":{"value":1035},"y":{"value":877}}},
{"data":{"values":[{}]},"mark":{"type":"rule","color":"#444444","strokeWidth":1},"encoding":{"x":{"value":122},"x2":{"value":1035},"y":{"value":1027}}},
{"data":{"values":[{}]},"mark":{"type":"rule","color":"#444444","strokeWidth":1},"encoding":{"x":{"value":122},"x2":{"value":1035},"y":{"value":1038}}},
{"data":{"values":[{}]},"mark":{"type":"rule","color":"#444444","strokeWidth":1},"encoding":{"x":{"value":1035},"y":{"value":1026},"y2":{"value":1050}}},
{"data":{"values":[{"t":"ber"}]},"mark":{"type":"text","align":"left","baseline":"top","font":"Liberation Sans","fontSize":10,"color":"#222222"},"encoding":{"text":{"field":"t"},"x":{"value":123},"y":{"value":1039}}},
{"data":{"values":[{}]},"mark":{"type":"rect","color":"#ffffff","stroke":"#9a9a9a","strokeWidth":1},"encoding":{"x":{"value":122},"x2":{"value":327},"y":{"value":891},"y2":{"value":1021}}},
{"data":{"values":[{"ln":1,"t":"CPO (Oct\u00a0\u00a0\u00a0’25)—Trend"},{"ln":2,"t":"remains Bullish until we"},{"ln":3,"t":"see a close below RM"},{"ln":4,"t":"4,100."}]},"mark":{"type":"text","align":"left","fontSize":16},"encoding":{"text":{"field":"t"},"x":{"value":137},"y":{"field":"ln","type":"ordinal","scale":{"type":"point","domain":[1,2,3,4],"range":[913,1001],"padding":0},"axis":null}}},
{"data":{"values":[{}]},"mark":{"type":"rect","color":"#ffffff","stroke":"#5a5a5a","strokeWidth":1},"encoding":{"x":{"value":962},"x2":{"value":1077},"y":{"value":425},"y2":{"value":465}}},
{"data":{"values":[{"t":"Daily Chart"}]},"mark":{"type":"text","fontSize":16.5},"encoding":{"text":{"field":"t"},"x":{"value":1017},"y":{"value":446}}},
{"data":{"values":[{"t":"CPO BMD (4,256.00, 4,273.00, 4,221.00, 4,242.00, -31.0000)"}]},"mark":{"type":"text","font":"Liberation Sans","fontSize":12,"color":"#333333"},"encoding":{"text":{"field":"t"},"x":{"value":578},"y":{"value":430}}},
{"data":{"values":[{"ln":1,"t":"Please note: Top Panel: 1) The dashed black line is the 20-period EMA, while the solid red line is the 50-period Weighted MA; the intermediate-term trend"},{"ln":2,"t":"is bullish, when the 20-ema is higher than the 50-wma and vice versa; 2)\u00a0\u00a0\u00a0‘Blue’\u00a0\u00a0\u00a0bars indicate positive short-term momentum, and oscillator readings,"},{"ln":3,"t":"and suggest traders consider buy-setups;\u00a0\u00a0\u00a0‘red’\u00a0\u00a0\u00a0bars on the other hand indicate bearish momentum. Bottom Panel: Shows the 14-period RSI indicator."}]},"mark":{"type":"text","fontSize":14.6,"fontStyle":"italic","color":"#222222"},"encoding":{"text":{"field":"t"},"x":{"value":601},"y":{"field":"ln","type":"ordinal","scale":{"type":"point","domain":[1,2,3],"range":[1070,1122],"padding":0},"axis":null}}},
{"data":{"values":[{"ln":1,"t":"Disclaimer: There is a risk of loss in trading in derivatives and the report is not to be construed as investment advice. The"},{"ln":2,"t":"information provided in this report is intended solely for informative purposes. The author, directors and other employees"},{"ln":3,"t":"of CC Commodity Info Services LLP cannot be held responsible for the accuracy of the information presented herein or"},{"ln":4,"t":"for the results of the positions taken based on the opinions expressed above."}]},"mark":{"type":"text","align":"left","fontSize":17.3,"color":"#1a1a1a"},"encoding":{"text":{"field":"t"},"x":{"value":107},"y":{"field":"ln","type":"ordinal","scale":{"type":"point","domain":[1,2,3,4],"range":[1166,1265],"padding":0},"axis":null}}},
{"data":{"values":[{}]},"mark":{"type":"rule","color":"#000000","strokeWidth":3},"encoding":{"x":{"value":107},"x2":{"value":1091},"y":{"value":1457}}},
{"data":{"values":[{"t":"."}]},"mark":{"type":"text","align":"left","fontSize":10},"encoding":{"text":{"field":"t"},"x":{"value":106},"y":{"value":1471}}}
],
"resolve": {"scale": {"x": "independent", "y": "independent", "color": "independent", "fill": "independent", "stroke": "independent"}, "axis": {"x": "independent", "y": "independent"}}
}
